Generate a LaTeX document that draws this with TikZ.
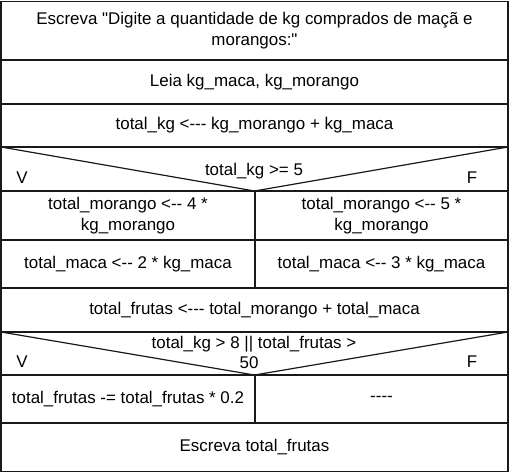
\documentclass[tikz,border=0pt]{standalone}
\usepackage{fontspec}
\setmainfont[Ligatures=TeXOff]{Liberation Sans}
\usetikzlibrary{positioning, calc}

\begin{document}
\begin{tikzpicture}[x=1bp, y=-1bp,
        nsbox/.style={rectangle, draw=black!90, line width=1.5bp, inner sep=0pt, outer sep=0pt, anchor=north west, align=center, font=\fontsize{17}{21}\selectfont},
        fullrow/.style={nsbox, minimum width=507bp},
        leftcell/.style={nsbox, minimum width=254bp},
        rightcell/.style={nsbox, minimum width=253bp},
        branchtxt/.style={inner sep=0pt, font=\fontsize{17}{21}\selectfont},
        condline/.style={draw=black!90, line width=1.2bp}
    ]
        \useasboundingbox (0,0) rectangle (512,475);

        \node[fullrow, minimum height=58.5bp] (escreva) at (1,1.5) {
            Escreva "Digite a quantidade de kg comprados de maçã e\\morangos:"
        };
        \node[fullrow, minimum height=44bp] (leia) at (escreva.south west) {Leia kg\_maca, kg\_morango};
        \node[fullrow, minimum height=43bp] (totalkg) at (leia.south west) {total\_kg <--- kg\_morango + kg\_maca};

        % first decision
        \node[fullrow, minimum height=44bp] (cond1) at (totalkg.south west) {};
        \draw[condline] (cond1.north west) -- (cond1.south) -- (cond1.north east);
        \node[branchtxt] (cond1txt) at (254,171) {total\_kg >= 5};
        \node[branchtxt] (cond1v) at (22,178) {V};
        \node[branchtxt] (cond1f) at (472,178) {F};

        \node[leftcell, minimum height=49bp] (morv) at (cond1.south west) {total\_morango <-- 4 *\\kg\_morango};
        \node[rightcell, minimum height=49bp] (morf) at (morv.north east) {total\_morango <-- 5 *\\kg\_morango};
        \node[leftcell, minimum height=48bp] (macv) at (morv.south west) {total\_maca <-- 2 * kg\_maca};
        \node[rightcell, minimum height=48bp] (macf) at (macv.north east) {total\_maca <-- 3 * kg\_maca};

        \node[fullrow, minimum height=44bp] (frutas) at (macv.south west) {total\_frutas <--- total\_morango + total\_maca};

        % second decision
        \node[fullrow, minimum height=43bp] (cond2) at (frutas.south west) {};
        \draw[condline] (cond2.north west) -- (cond2.south) -- (cond2.north east);
        \node[branchtxt] (cond2txt) at (254,344) {total\_kg > 8 || total\_frutas >};
        \node[branchtxt] (cond2num) at (249,363) {50};
        \node[branchtxt] (cond2v) at (22,362) {V};
        \node[branchtxt] (cond2f) at (472,362) {F};

        \node[leftcell, minimum height=48bp] (descv) at (cond2.south west) {total\_frutas -= total\_frutas * 0.2};
        \node[rightcell, minimum height=48bp] (descf) at (descv.north east) {----};

        \node[fullrow, minimum height=48.5bp] (saida) at (descv.south west) {Escreva total\_frutas};
\end{tikzpicture}
\end{document}
